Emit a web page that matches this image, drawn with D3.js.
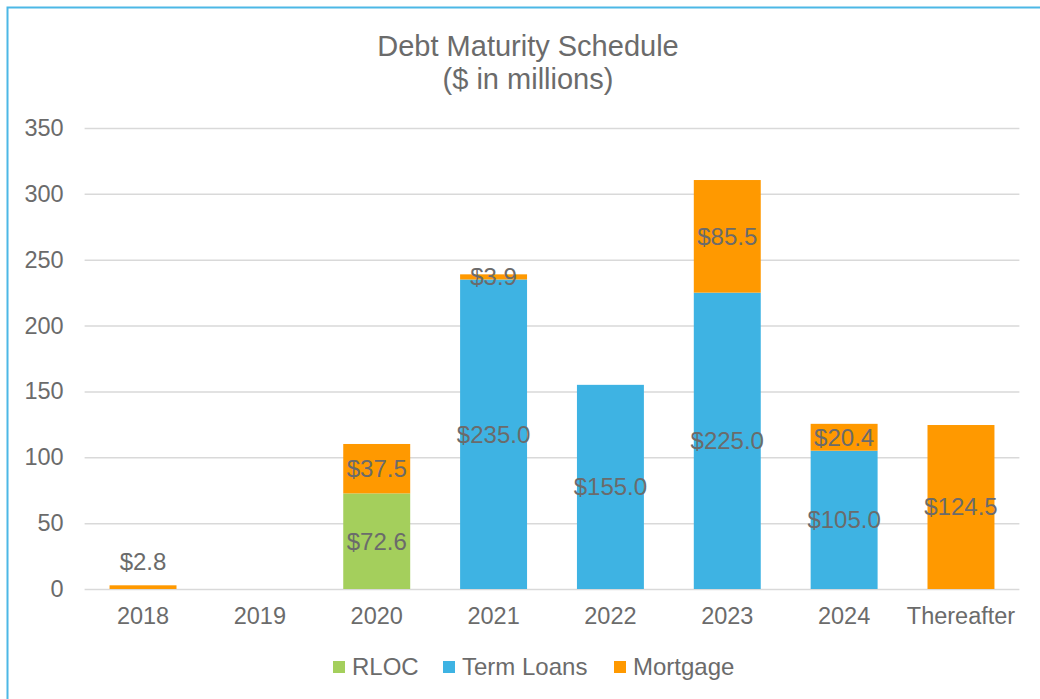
<!DOCTYPE html>
<html><head><meta charset="utf-8">
<script src="https://cdn.jsdelivr.net/npm/d3@7"></script>
<style>body{margin:0;background:#fff}svg{display:block;font-family:"Liberation Sans",Arial,sans-serif}</style>
</head><body><svg id="c" width="1040" height="699"></svg>
<script>
const categories = ["2018","2019","2020","2021","2022","2023","2024","Thereafter"];
const seriesNames = ["RLOC","Term Loans","Mortgage"];
const rloc = [0,0,72.6,0,0,0,0,0];
const termLoans = [0,0,0,235.0,155.0,225.0,105.0,0];
const mortgage = [2.8,0,37.5,3.9,0,85.5,20.4,124.5];
const yTicks = [0,50,100,150,200,250,300,350];
const colors = ["#a4cf5c","#3eb3e3","#ff9900"];

const svg = d3.select("#c");
svg.append("rect").attr("x",7.5).attr("y",7.5).attr("width",1040).attr("height",700)
  .attr("fill","#fff").attr("stroke","#4cb8e6").attr("stroke-width",2);

const x = d3.scaleBand().domain(categories).range([84.6,1019.4]).paddingInner(0.427).paddingOuter(0.2135);
const y = d3.scaleLinear().domain([0,350]).range([589,128]);

const txt = "#6b6b6b";
const ff = "Liberation Sans, Arial, sans-serif";
svg.append("text").attr("x",528).attr("y",56).attr("text-anchor","middle").attr("font-size",29).attr("fill",txt).text("Debt Maturity Schedule");
svg.append("text").attr("x",528).attr("y",89).attr("text-anchor","middle").attr("font-size",29).attr("fill",txt).text("($ in millions)");

const yAxis = d3.axisLeft(y).tickValues(yTicks).tickSize(-(1019.4-84.6)).tickPadding(21);
const gy = svg.append("g").attr("transform","translate(84.6,0)").call(yAxis);
gy.select(".domain").remove();
gy.selectAll(".tick line").attr("stroke","#d9d9d9").attr("stroke-width",1.5);
gy.selectAll(".tick text").attr("font-size",23.5).attr("fill",txt).attr("font-family",ff);

const xAxis = d3.axisBottom(x).tickSize(0).tickPadding(18);
const gx = svg.append("g").attr("transform","translate(0,589)").call(xAxis);
gx.select(".domain").remove();
gx.selectAll(".tick text").attr("font-size",23.5).attr("fill",txt).attr("font-family",ff);

const table = categories.map((c,i)=>({cat:c,"RLOC":rloc[i],"Term Loans":termLoans[i],"Mortgage":mortgage[i]}));
const stacked = d3.stack().keys(seriesNames)(table);

stacked.forEach((s,si)=>{
  svg.append("g").selectAll("rect").data(s.filter(d=>d[1]-d[0]>0)).join("rect")
    .attr("x",d=>x(d.data.cat)).attr("width",x.bandwidth())
    .attr("y",d=>y(d[1])).attr("height",d=>y(d[0])-y(d[1]))
    .attr("fill",colors[si]);
});
stacked.forEach((s,si)=>{
  svg.append("g").selectAll("text").data(s.filter(d=>d[1]-d[0]>0)).join("text")
    .attr("x",d=>x(d.data.cat)+x.bandwidth()/2)
    .attr("y",d=>{const v=d[1]-d[0]; return v<3.5 && d.data.cat==="2018" ? y(d[1])-24 : (y(d[0])+y(d[1]))/2;})
    .attr("dy","0.35em").attr("text-anchor","middle").attr("font-size",24).attr("fill",txt)
    .text(d=>"$"+(d[1]-d[0]).toFixed(1));
});

const legX = [333,443,614];
seriesNames.forEach((n,i)=>{
  svg.append("rect").attr("x",legX[i]).attr("y",661).attr("width",12).attr("height",12).attr("fill",colors[i]);
  svg.append("text").attr("x",legX[i]+19).attr("y",667).attr("dy","0.35em").attr("font-size",24).attr("fill",txt).text(n);
});
</script></body></html>
